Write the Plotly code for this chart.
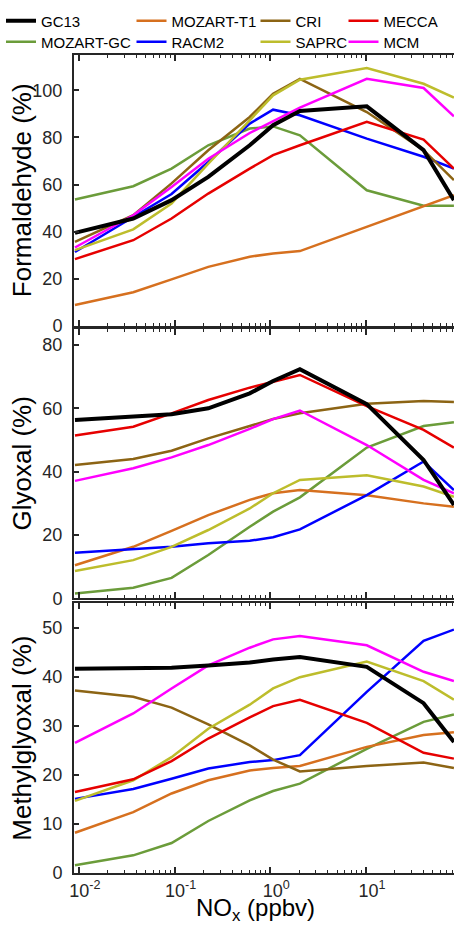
import plotly.graph_objects as go

# NOx (ppbv) model points
nox = [0.0091, 0.037, 0.093, 0.225, 0.61, 1.07, 2.04, 10.2, 40, 83]

colors = {
    "GC13": "#000000",
    "MOZART-GC": "#6B9C3A",
    "MOZART-T1": "#D6701F",
    "RACM2": "#0000FF",
    "CRI": "#8C6414",
    "SAPRC": "#BDBD2C",
    "MECCA": "#E60000",
    "MCM": "#FF00FF",
}

formaldehyde = {
    "GC13":      [39.5, 45.6, 53.4, 63.3, 76.7, 85.2, 91.2, 93.2, 74.6, 53.4],
    "MOZART-GC": [53.7, 59.3, 66.8, 76.7, 83.8, 84.7, 80.9, 57.6, 51.0, 51.0],
    "MOZART-T1": [8.9, 14.3, 19.8, 25.1, 29.4, 30.8, 31.8, 42.1, 51.0, 55.5],
    "RACM2":     [31.4, 46.3, 56.0, 69.6, 85.9, 91.8, 89.4, 79.5, 71.8, 66.8],
    "CRI":       [35.7, 47.0, 60.5, 74.6, 88.7, 98.6, 104.9, 90.8, 74.6, 61.9],
    "SAPRC":     [32.2, 41.0, 52.0, 68.9, 87.3, 97.9, 104.5, 109.5, 102.8, 96.9],
    "MECCA":     [28.4, 36.4, 45.6, 56.2, 66.8, 72.5, 76.7, 86.6, 79.1, 66.8],
    "MCM":       [33.3, 47.0, 59.0, 71.0, 81.9, 86.9, 92.7, 104.9, 101.0, 89.0],
}

glyoxal = {
    "GC13":      [56.3, 57.2, 58.1, 60.0, 64.7, 68.6, 72.3, 61.3, 43.7, 29.5],
    "MOZART-GC": [1.6, 3.4, 6.5, 13.7, 22.6, 27.4, 31.9, 47.6, 54.4, 55.6],
    "MOZART-T1": [10.5, 16.3, 21.3, 26.3, 31.1, 33.2, 34.2, 32.6, 30.0, 28.9],
    "RACM2":     [14.4, 15.5, 16.3, 17.4, 18.2, 19.3, 21.8, 32.6, 43.2, 34.2],
    "CRI":       [42.1, 44.0, 46.6, 50.5, 54.4, 56.6, 58.4, 61.4, 62.3, 62.0],
    "SAPRC":     [8.7, 12.1, 16.3, 21.6, 28.4, 33.2, 37.4, 38.9, 35.3, 32.1],
    "MECCA":     [51.4, 54.2, 58.4, 62.6, 66.5, 68.4, 70.5, 60.7, 53.2, 47.6],
    "MCM":       [37.1, 41.1, 44.5, 48.4, 53.5, 56.6, 59.3, 48.4, 37.4, 33.2],
}

methylglyoxal = {
    "GC13":      [41.6, 41.6, 41.8, 42.3, 42.9, 43.5, 44.0, 42.0, 34.6, 26.7],
    "MOZART-GC": [1.6, 3.6, 6.1, 10.6, 14.8, 16.7, 18.2, 25.3, 30.8, 32.3],
    "MOZART-T1": [8.2, 12.4, 16.2, 18.9, 20.9, 21.4, 21.8, 25.7, 28.1, 28.7],
    "RACM2":     [15.1, 17.1, 19.2, 21.3, 22.6, 23.0, 24.0, 36.9, 47.3, 49.6],
    "CRI":       [37.2, 35.9, 33.7, 30.3, 26.0, 23.1, 20.7, 21.8, 22.5, 21.4],
    "SAPRC":     [14.7, 18.9, 23.6, 29.4, 34.3, 37.6, 39.9, 43.1, 39.1, 35.3],
    "MECCA":     [16.5, 19.1, 22.8, 27.4, 31.7, 34.0, 35.3, 30.6, 24.5, 23.3],
    "MCM":       [26.5, 32.5, 37.6, 42.3, 45.9, 47.6, 48.3, 46.4, 41.0, 39.1],
}

panels = [
    ("Formaldehyde (%)", formaldehyde, [0, 115], [0, 20, 40, 60, 80, 100]),
    ("Glyoxal (%)", glyoxal, [0, 85], [0, 20, 40, 60, 80]),
    ("Methylglyoxal (%)", methylglyoxal, [0, 55], [0, 10, 20, 30, 40, 50]),
]

xtick_vals = [0.01, 0.1, 1, 10]
xtick_text = ["10<sup>-2</sup>", "10<sup>-1</sup>", "10<sup>0</sup>", "10<sup>1</sup>"]

W, H = 454, 925
ML, MR, MT, MB = 74, 0, 55, 52
domains = [[0.6687, 1.0], [0.3356, 0.665], [0.0, 0.330]]

# legend grid: 4 columns x 2 rows (one legend box per entry)
legend_rows = [["GC13", "MOZART-T1", "CRI", "MECCA"], ["MOZART-GC", "RACM2", "SAPRC", "MCM"]]
legend_col_x = [1, 131.5, 255.5, 343.5]
legend_row_top = [4.5, 25.5]
legend_pos = {}
k = 0
for r, row in enumerate(legend_rows):
    for c, n in enumerate(row):
        k += 1
        lid = "legend" if k == 1 else f"legend{k}"
        legend_pos[n] = (lid, legend_col_x[c], legend_row_top[r])

fig = go.Figure()
order = ["MOZART-GC", "MOZART-T1", "RACM2", "CRI", "SAPRC", "MECCA", "MCM", "GC13"]
for p, (title, data, yr, yt) in enumerate(panels):
    xa = "x" if p == 0 else f"x{p+1}"
    ya = "y" if p == 0 else f"y{p+1}"
    for n in order:
        fig.add_trace(go.Scatter(
            x=nox, y=data[n], mode="lines", name=n,
            line=dict(color=colors[n], width=4 if n == "GC13" else 2.5),
            xaxis=xa, yaxis=ya, showlegend=(p == 0),
            legend=legend_pos[n][0],
        ))

minor_vals = [m * 10 ** e for e in (-3, -2, -1, 0, 1) for m in range(2, 10)
              if 0.009 < m * 10 ** e < 83]

axis_col = "#262626"
layout = dict(
    width=W, height=H,
    margin=dict(l=ML, r=MR, t=MT, b=MB, autoexpand=False),
    plot_bgcolor="white", paper_bgcolor="white",
    font=dict(family="Liberation Sans, Arial, sans-serif", color=axis_col),
    showlegend=True,
)
for p, (title, data, yr, yt) in enumerate(panels):
    xk = "xaxis" if p == 0 else f"xaxis{p+1}"
    yk = "yaxis" if p == 0 else f"yaxis{p+1}"
    ya = "y" if p == 0 else f"y{p+1}"
    xa = "x" if p == 0 else f"x{p+1}"
    layout[xk] = dict(
        type="log", range=[-2.051, 1.92], domain=[0, 1], anchor=ya,
        tickmode="array", tickvals=xtick_vals, ticktext=xtick_text,
        showticklabels=(p == 2), ticklabelshift=6,
        ticks="inside", ticklen=6, tickwidth=1.5, tickcolor=axis_col,
        minor=dict(tickmode="array", tickvals=minor_vals, ticks="inside", ticklen=3,
                   tickwidth=1, tickcolor=axis_col, showgrid=False),
        showline=True, linewidth=2, linecolor=axis_col, mirror="ticks",
        showgrid=False, zeroline=False, automargin=False,
        tickfont=dict(size=18, color=axis_col),
    )
    layout[yk] = dict(
        range=yr, domain=domains[p], anchor=xa,
        tickmode="array", tickvals=yt, ticks="inside", ticklen=5, tickwidth=1.5, tickcolor=axis_col,
        showline=True, linewidth=2, linecolor=axis_col, mirror=False,
        showgrid=False, zeroline=False, automargin=False,
        ticklabelstandoff=6,
        tickfont=dict(size=18, color=axis_col),
    )

for n, (lid, lx, ly) in legend_pos.items():
    layout[lid] = dict(
        x=lx / W, xref="container", xanchor="left",
        y=1 - ly / H, yref="container", yanchor="top",
        orientation="v", bgcolor="rgba(0,0,0,0)",
        font=dict(size=15, color="#000000", family="Liberation Sans, Arial, sans-serif"),
        itemwidth=30,
    )

fig.update_layout(**layout)

plot_w = W - ML - MR
plot_h = H - MT - MB
annos = []
for p, (title, data, yr, yt) in enumerate(panels):
    annos.append(dict(
        text=title, textangle=-90, xref="paper", yref="paper",
        x=(21.7 - ML) / plot_w, y=(domains[p][0] + domains[p][1]) / 2,
        xanchor="center", yanchor="middle", showarrow=False,
        font=dict(size=26, color="#000000"),
    ))
annos.append(dict(
    text="NO<sub>x</sub> (ppbv)", xref="paper", yref="paper",
    x=(255 - ML) / plot_w, y=-(909 - (H - MB)) / plot_h,
    xanchor="center", yanchor="middle", showarrow=False,
    font=dict(size=24, color="#000000"),
))
fig.update_layout(annotations=annos)

fig.write_html(
    "out.html",
    config={"displayModeBar": False},
    post_script="document.body.style.margin='0';document.body.style.overflow='hidden';",
)
